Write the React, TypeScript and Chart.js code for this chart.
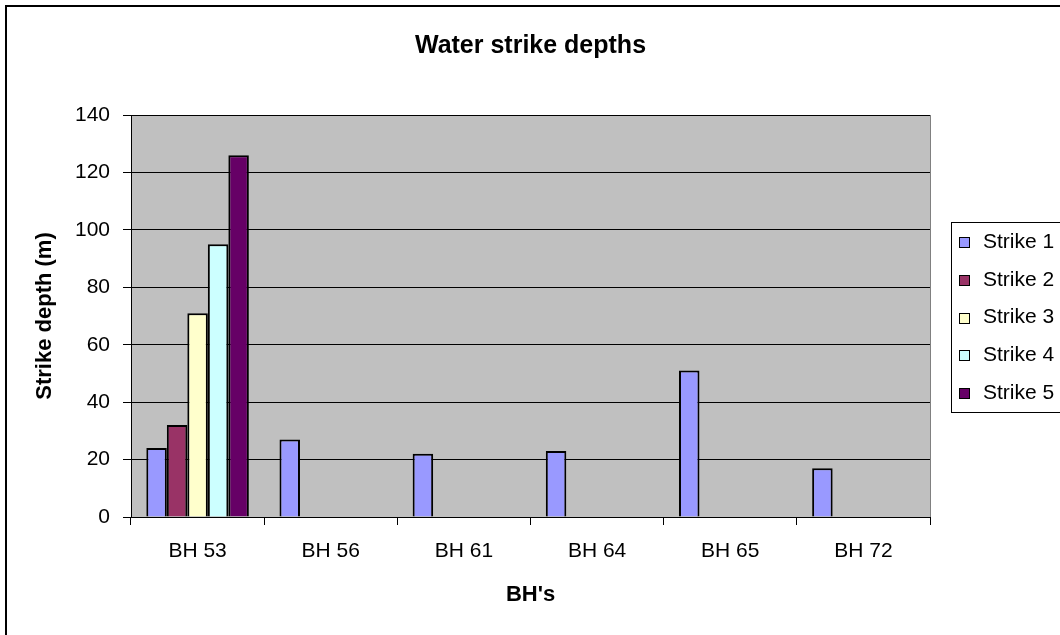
import React, { useEffect, useRef } from "react";
import { Chart, registerables } from "chart.js";

Chart.register(...registerables);

const categories = ["BH 53", "BH 56", "BH 61", "BH 64", "BH 65", "BH 72"];
const strike1 = [24, 27, 22, 23, 51, 17];
const strike2 = [32, null, null, null, null, null];
const strike3 = [71, null, null, null, null, null];
const strike4 = [95, null, null, null, null, null];
const strike5 = [126, null, null, null, null, null];
const seriesNames = ["Strike 1", "Strike 2", "Strike 3", "Strike 4", "Strike 5"];
const seriesColors = ["#9999FF", "#993366", "#FFFFCC", "#CCFFFF", "#660066"];
const yMin = 0;
const yMax = 140;
const yStep = 20;
const chartTitle = "Water strike depths";
const xTitle = "BH's";
const yTitle = "Strike depth (m)";

const FONT = "'Liberation Sans', Arial, sans-serif";

const decor = {
  id: "decor",
  beforeDraw(chart: any) {
    const { ctx, chartArea: a } = chart;
    ctx.save();
    ctx.fillStyle = "#ffffff";
    ctx.fillRect(0, 0, chart.width, chart.height);
    ctx.strokeStyle = "#000000";
    ctx.lineWidth = 2;
    ctx.strokeRect(6, 6, chart.width + 40, chart.height + 40);
    ctx.fillStyle = "#C0C0C0";
    ctx.fillRect(a.left, a.top, a.right - a.left, a.bottom - a.top);
    ctx.restore();
  },
  afterDraw(chart: any) {
    const { ctx, chartArea: a } = chart;
    ctx.save();
    // right plot border
    ctx.strokeStyle = "#808080";
    ctx.lineWidth = 1;
    ctx.beginPath();
    ctx.moveTo(Math.round(a.right) + 0.5, a.top);
    ctx.lineTo(Math.round(a.right) + 0.5, a.bottom);
    ctx.stroke();

    const cx = (a.left + a.right) / 2;
    ctx.fillStyle = "#000000";
    // chart title
    ctx.font = `bold 25px ${FONT}`;
    ctx.textAlign = "center";
    ctx.textBaseline = "alphabetic";
    ctx.fillText(chartTitle, cx, 53);
    // x axis title
    ctx.font = `bold 22px ${FONT}`;
    ctx.fillText(xTitle, cx, 601);
    // y axis title
    ctx.save();
    ctx.translate(45, (a.top + a.bottom) / 2);
    ctx.rotate(-Math.PI / 2);
    ctx.textBaseline = "middle";
    ctx.fillText(yTitle, 0, 0);
    ctx.restore();

    // legend
    ctx.strokeStyle = "#000000";
    ctx.lineWidth = 1;
    ctx.strokeRect(951.5, 222.5, 300, 190);
    ctx.font = `21px ${FONT}`;
    ctx.textAlign = "left";
    ctx.textBaseline = "middle";
    chart.data.datasets.forEach((ds: any, i: number) => {
      const cy = 242 + i * 37.8;
      ctx.fillStyle = ds.backgroundColor;
      ctx.fillRect(959.5, Math.round(cy) - 4.5, 10, 10);
      ctx.strokeRect(959.5, Math.round(cy) - 4.5, 10, 10);
      ctx.fillStyle = "#000000";
      ctx.fillText(ds.label, 983, cy);
    });
    ctx.restore();
  },
};

export default function App() {
  const ref = useRef<HTMLCanvasElement | null>(null);
  useEffect(() => {
    if (!ref.current) return;
    const seriesData = [strike1, strike2, strike3, strike4, strike5];
    const chart = new Chart(ref.current, {
      type: "bar",
      data: {
        labels: categories,
        datasets: seriesData.map((d, i) => ({
          label: seriesNames[i],
          data: d as any,
          backgroundColor: seriesColors[i],
          borderColor: "#000000",
          borderWidth: 2,
          categoryPercentage: 0.77,
          barPercentage: 1,
        })),
      },
      options: {
        responsive: false,
        animation: false,
        events: [],
        layout: { padding: { top: 115, right: 130, left: 0, bottom: 0 } },
        plugins: {
          legend: { display: false },
          title: { display: false },
          tooltip: { enabled: false },
        },
        scales: {
          x: {
            offset: true,
            grid: {
              offset: true,
              drawOnChartArea: false,
              drawTicks: true,
              tickLength: 8,
              color: "#000000",
              lineWidth: 1,
            },
            border: { display: true, color: "#000000", width: 1 },
            ticks: {
              color: "#000000",
              font: { family: FONT, size: 21 },
              padding: 14,
              maxRotation: 0,
            },
            afterFit: (s: any) => {
              s.height = 118;
            },
          },
          y: {
            min: yMin,
            max: yMax,
            grid: {
              color: "#000000",
              lineWidth: 1,
              drawTicks: true,
              tickLength: 8,
            },
            border: { display: true, color: "#000000", width: 1 },
            ticks: {
              stepSize: yStep,
              color: "#000000",
              font: { family: FONT, size: 21 },
              padding: 13,
            },
            afterFit: (s: any) => {
              s.width = 131;
            },
          },
        },
      },
      plugins: [decor],
    });
    return () => chart.destroy();
  }, []);
  return (
    <div style={{ position: "fixed", left: 0, top: 0, width: 1060, height: 635 }}>
      <canvas ref={ref} width={1060} height={635} style={{ display: "block" }} />
    </div>
  );
}
